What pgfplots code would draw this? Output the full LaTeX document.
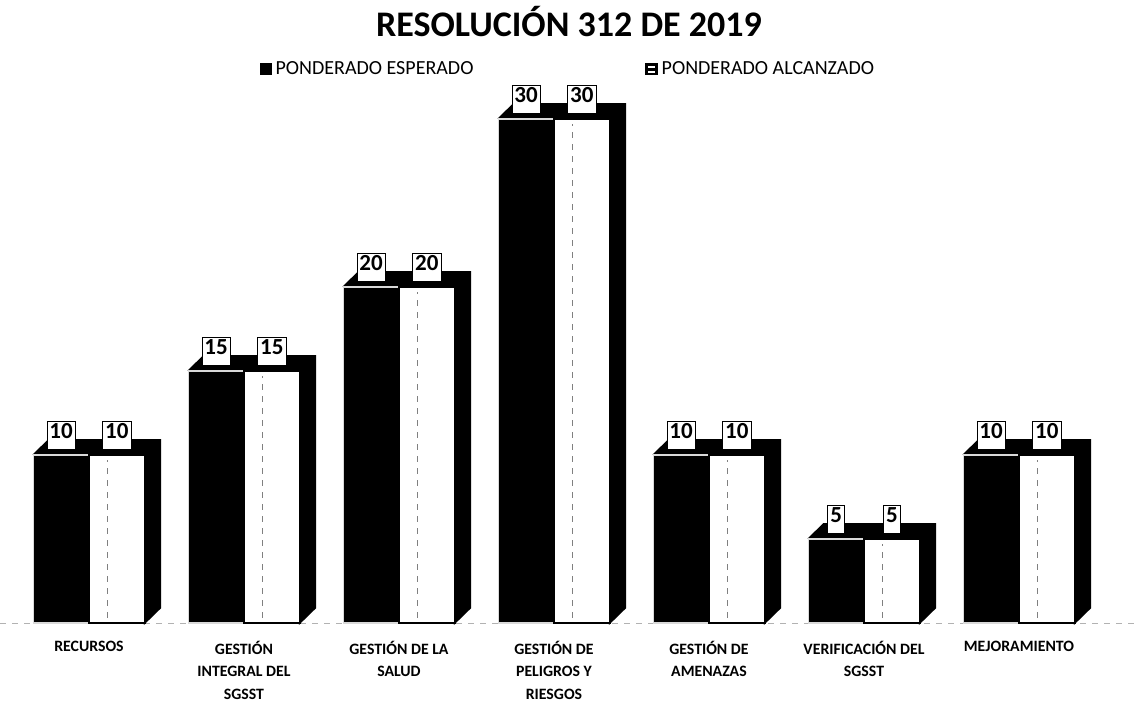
\documentclass[border=0pt]{standalone}
\usepackage{pgfplots}
\pgfplotsset{compat=1.18}
\usepackage{fontspec}
\setmainfont{Carlito}
\begin{document}
\begin{tikzpicture}
\path[use as bounding box] (0,0) rectangle (569pt,357pt);
\begin{axis}[
  at={(0pt,45.5pt)}, anchor=south west,
  scale only axis, width=569pt, height=261.5pt,
  xmin=-0.574, xmax=6.768, ymin=0, ymax=31.13,
  clip=false,
  axis line style={draw=none},
  ytick=\empty,
  xtick={0,...,6}, major tick length=0pt,
  xticklabels={RECURSOS,{GESTIÓN\\INTEGRAL DEL\\SGSST},{GESTIÓN DE LA\\SALUD},{GESTIÓN DE\\PELIGROS Y\\RIESGOS},{GESTIÓN DE\\AMENAZAS},{VERIFICACIÓN DEL\\SGSST},MEJORAMIENTO},
  xticklabel style={align=center, font=\bfseries\fontsize{7.9}{11.2}\selectfont, anchor=north, yshift=-5.5pt},
  title={RESOLUCIÓN 312 DE 2019},
  title style={at={(0.5,1)}, anchor=center, yshift=33pt, font=\bfseries\fontsize{18}{20}\selectfont},
  legend columns=2,
  legend style={at={(0.5,1.059)}, anchor=center, draw=none, fill=none,
    font=\fontsize{10}{11}\selectfont, /tikz/every even column/.append style={column sep=84pt}},
  legend cell align=left,
]
% floor
\addplot[forget plot, gray!60, dashed, line width=0.5pt] coordinates {(-0.574,0) (6.768,0)};
% 3D top + side faces
\addplot[forget plot, fill=black, draw=black, line width=0.8pt] coordinates {(-0.36,10) (-0.26,10.9) (0.46,10.9) (0.46,0.9) (0.36,0) (0.36,10) (-0.36,10)};
\addplot[forget plot, fill=black, draw=black, line width=0.8pt] coordinates {(0.64,15) (0.74,15.9) (1.46,15.9) (1.46,0.9) (1.36,0) (1.36,15) (0.64,15)};
\addplot[forget plot, fill=black, draw=black, line width=0.8pt] coordinates {(1.64,20) (1.74,20.9) (2.46,20.9) (2.46,0.9) (2.36,0) (2.36,20) (1.64,20)};
\addplot[forget plot, fill=black, draw=black, line width=0.8pt] coordinates {(2.64,30) (2.74,30.9) (3.46,30.9) (3.46,0.9) (3.36,0) (3.36,30) (2.64,30)};
\addplot[forget plot, fill=black, draw=black, line width=0.8pt] coordinates {(3.64,10) (3.74,10.9) (4.46,10.9) (4.46,0.9) (4.36,0) (4.36,10) (3.64,10)};
\addplot[forget plot, fill=black, draw=black, line width=0.8pt] coordinates {(4.64,5) (4.74,5.9) (5.46,5.9) (5.46,0.9) (5.36,0) (5.36,5) (4.64,5)};
\addplot[forget plot, fill=black, draw=black, line width=0.8pt] coordinates {(5.64,10) (5.74,10.9) (6.46,10.9) (6.46,0.9) (6.36,0) (6.36,10) (5.64,10)};
% front bars
\addplot[ybar, bar width=0.36, bar shift=-0.18, fill=black, draw=white!85!black, line width=0.6pt,
  legend image code/.code={\draw[fill=black, draw=black, line width=0.4pt] (0pt,-2.7pt) rectangle (5.4pt,2.7pt);},
  nodes near coords={\pgfmathprintnumber[assume math mode=true]{\pgfplotspointmeta}},
  nodes near coords style={font=\bfseries\fontsize{11.5}{12}\selectfont, fill=white, draw=black, line width=0.4pt, inner sep=1.2pt, text depth=4.3pt, anchor=south, yshift=2.5pt, xshift=-13.95pt, text=black}]
  coordinates {(0,10) (1,15) (2,20) (3,30) (4,10) (5,5) (6,10)};
\addlegendentry{PONDERADO ESPERADO}
\addplot[ybar, bar width=0.36, bar shift=0.18, fill=white, draw=black, line width=0.8pt,
  legend image code/.code={\draw[fill=white, draw=black, line width=1.3pt] (0.3pt,-2.4pt) rectangle (5.1pt,2.4pt); \fill[black] (1pt,-0.4pt) rectangle (4.4pt,0.4pt);},
  nodes near coords={\pgfmathprintnumber[assume math mode=true]{\pgfplotspointmeta}},
  nodes near coords style={font=\bfseries\fontsize{11.5}{12}\selectfont, fill=white, draw=black, line width=0.4pt, inner sep=1.2pt, text depth=4.3pt, anchor=south, yshift=2.5pt, xshift=13.95pt, text=black}]
  coordinates {(0,10) (1,15) (2,20) (3,30) (4,10) (5,5) (6,10)};
\addlegendentry{PONDERADO ALCANZADO}
% faint inner dashed lines of the white faces
\addplot[forget plot, gray, dashed, line width=0.4pt] coordinates {(0.12,0.3) (0.12,9.7)};
\addplot[forget plot, gray, dashed, line width=0.4pt] coordinates {(1.12,0.3) (1.12,14.7)};
\addplot[forget plot, gray, dashed, line width=0.4pt] coordinates {(2.12,0.3) (2.12,19.7)};
\addplot[forget plot, gray, dashed, line width=0.4pt] coordinates {(3.12,0.3) (3.12,29.7)};
\addplot[forget plot, gray, dashed, line width=0.4pt] coordinates {(4.12,0.3) (4.12,9.7)};
\addplot[forget plot, gray, dashed, line width=0.4pt] coordinates {(5.12,0.3) (5.12,4.7)};
\addplot[forget plot, gray, dashed, line width=0.4pt] coordinates {(6.12,0.3) (6.12,9.7)};
\end{axis}
\end{tikzpicture}
\end{document}
